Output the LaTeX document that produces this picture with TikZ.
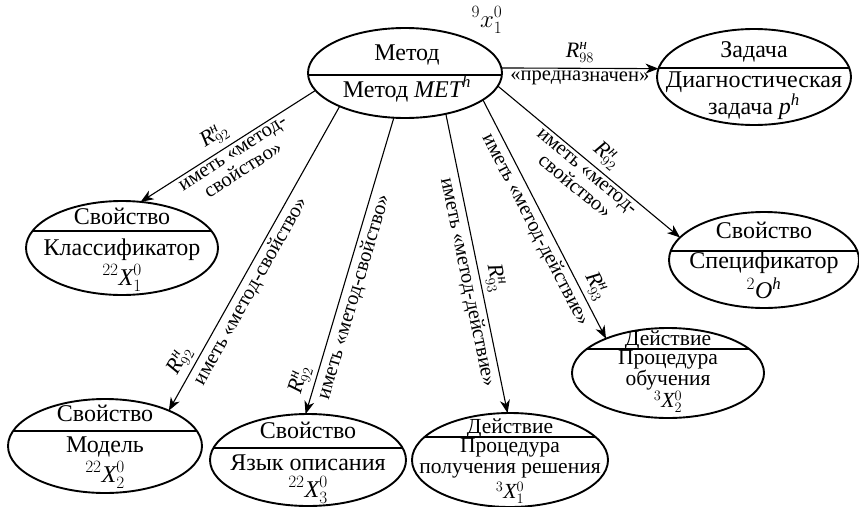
\documentclass[tikz,border=0pt]{standalone}
\usepackage{amsmath}
\usepackage{fontspec}
\setmainfont{Liberation Serif}
\usetikzlibrary{shapes.geometric,arrows.meta}
% relation symbol R^н_{nn}
\newcommand\relR[1]{$\mathit{R}^{\text{\itshape н}}_{#1}$}

\begin{document}
\begin{tikzpicture}[x=1pt,y=-1pt,
  ell/.style={ellipse,draw,line width=1.9pt,inner sep=0pt,outer sep=0pt},
  divider/.style={path picture={\draw[line width=1.1pt]
      ([yshift=#1]path picture bounding box.west) --
      ([yshift=#1]path picture bounding box.east);}},
  captxt/.style={font=\fontsize{24}{25}\selectfont,inner sep=0pt},
  bodytxt/.style={font=\fontsize{24}{25}\selectfont,inner sep=0pt,align=center},
  smalltxt/.style={font=\fontsize{21.5}{21}\selectfont,inner sep=0pt,align=center},
  arr/.style={line width=1.1pt,-{Stealth[length=13pt,width=10pt,inset=4pt]}},
  lab/.style={font=\fontsize{20.5}{20}\selectfont,sloped,inner sep=1.5pt,align=center},
  rlab/.style={font=\fontsize{22}{22}\selectfont,sloped,inner sep=1.5pt},
]
\useasboundingbox (0,0) rectangle (859,506);

% ---- ellipses ----
\node[ell,divider=-2pt,minimum width=194pt,minimum height=90pt] (m) at (405,73) {};
\node[ell,divider=9pt,minimum width=194pt,minimum height=96pt] (ta) at (754,77) {};
\node[ell,divider=17pt,minimum width=192pt,minimum height=94pt] (cl) at (122,248) {};
\node[ell,divider=9pt,minimum width=190pt,minimum height=96pt] (sp) at (764,260) {};
\node[ell,divider=15pt,minimum width=194pt,minimum height=94pt] (mo) at (105,446) {};
\node[ell,divider=12pt,minimum width=196pt,minimum height=92pt] (la) at (308,460) {};
\node[ell,divider=23pt,minimum width=196pt,minimum height=94pt] (de) at (510,460) {};
\node[ell,divider=24pt,minimum width=192pt,minimum height=90pt] (le) at (668,373) {};

% ---- texts inside ellipses ----
\node[captxt] (m-a) at (407,55) {Метод};
\node[captxt] (m-b) at (407,89) {Метод $\mathit{MET}^{\mathit{h}}$};
\node[font=\fontsize{23}{24}\selectfont,inner sep=0pt] (m-x) at (487,20) {$^{9}x^{0}_{1}$};

\node[captxt] (ta-a) at (754,52) {Задача};
\node[bodytxt] (ta-b) at (754,96) {Диагностическая\\задача $\mathit{p}^{\mathit{h}}$};

\node[captxt] (cl-a) at (122,216) {Свойство};
\node[captxt] (cl-b) at (122,250) {Классификатор};
\node[captxt] (cl-c) at (122,278) {$^{22}\mathit{X}^{0}_{1}$};

\node[captxt] (sp-a) at (764,230) {Свойство};
\node[captxt] (sp-b) at (764,263) {Спецификатор};
\node[captxt] (sp-c) at (764,288) {$^{2}\mathit{O}^{\mathit{h}}$};

\node[captxt] (mo-a) at (105,413) {Свойство};
\node[captxt] (mo-b) at (105,447) {Модель};
\node[captxt] (mo-c) at (105,475) {$^{22}\mathit{X}^{0}_{2}$};

\node[captxt] (la-a) at (308,430) {Свойство};
\node[captxt] (la-b) at (308,463) {Язык описания};
\node[captxt] (la-c) at (308,490) {$^{22}\mathit{X}^{0}_{3}$};

\node[smalltxt] (de-a) at (510,428) {Действие};
\node[smalltxt] (de-b) at (510,458) {Процедура\\получения решения};
\node[smalltxt] (de-c) at (510,493) {$^{3}\mathit{X}^{0}_{1}$};

\node[smalltxt] (le-a) at (668,340) {Действие};
\node[smalltxt] (le-b) at (668,370) {Процедура\\обучения};
\node[smalltxt] (le-c) at (668,402) {$^{3}\mathit{X}^{0}_{2}$};

% ---- connectors ----
\draw[arr] (m.3) -- (ta.175.3)
  node[rlab,midway,above=4pt] (r-ta) {\relR{98}}
  node[lab,midway,below=1pt] (t-ta) {«предназначен»};

\draw[arr] (m.-169.5) -- (cl.68.6)
  node[rlab,pos=0.53,above=4pt] (r-cl) {\relR{92}}
  node[lab,pos=0.50,below=2pt] (t-cl) {иметь «метод-\\свойство»};

\draw[arr] (m.-153.4) -- (mo.29.8)
  node[lab,pos=0.587,below=2pt] (t-mo) {иметь «метод-свойство»}
  node[rlab,pos=0.86,above=3pt] (r-mo) {\relR{92}};

\draw[arr] (m.-104.9) -- (la.93.6)
  node[lab,pos=0.593,below=2pt] (t-la) {иметь «метод-свойство»}
  node[rlab,pos=0.90,above=3pt] (r-la) {\relR{92}};

\draw[arr] (m.-45.7) -- (de.93.4)
  node[lab,pos=0.555,below=2pt] (t-de) {иметь «метод-действие»}
  node[rlab,pos=0.56,above=3pt] (r-de) {\relR{93}};

\draw[arr] (m.-19.3) -- (le.151.8)
  node[lab,pos=0.52,below=2pt] (t-le) {иметь «метод-действие»}
  node[rlab,pos=0.81,above=3pt] (r-le) {\relR{93}};

\draw[arr] (m.-8.4) -- (sp.165.2)
  node[lab,pos=0.52,below=2pt] (t-sp) {иметь «метод-\\свойство»}
  node[rlab,pos=0.54,above=4pt] (r-sp) {\relR{92}};

\end{tikzpicture}
\end{document}
